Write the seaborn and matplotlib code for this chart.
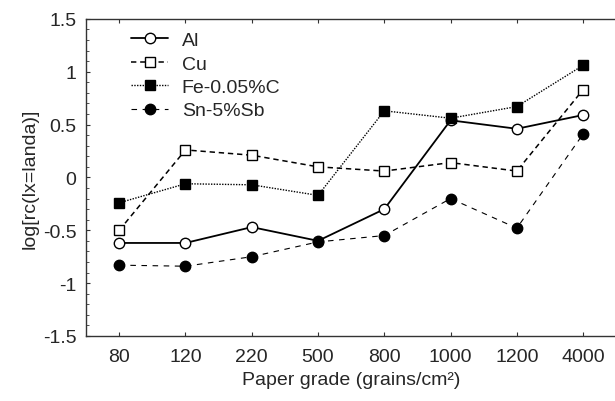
import matplotlib
matplotlib.use("Agg")
import matplotlib.pyplot as plt
import seaborn as sns
import numpy as np
from matplotlib.ticker import MultipleLocator

sns.set_style("white")
plt.rcParams['font.family'] = ['Liberation Sans', 'DejaVu Sans']

grades = ["80", "120", "220", "500", "800", "1000", "1200", "4000"]
al = [-0.62, -0.62, -0.47, -0.60, -0.30, 0.54, 0.46, 0.59]
cu = [-0.50, 0.26, 0.21, 0.10, 0.06, 0.14, 0.06, 0.83]
fe = [-0.24, -0.06, -0.07, -0.17, 0.63, 0.56, 0.67, 1.06]
sn = [-0.83, -0.84, -0.75, -0.61, -0.55, -0.20, -0.48, 0.41]

FS = 14

fig = plt.figure(figsize=(6.15, 4.02), dpi=100)
ax = fig.add_axes([0.140, 0.1617, 0.862, 0.789])
pos = np.arange(len(grades))

sns.lineplot(x=pos, y=al, ax=ax, color='black', lw=1.3, ls='-', marker='o', ms=7.5,
             mfc='white', mec='black', mew=1.0, label='Al')
sns.lineplot(x=pos, y=cu, ax=ax, color='black', lw=1.1, ls=(0, (3.5, 2.5)), marker='s', ms=7,
             mfc='white', mec='black', mew=1.0, label='Cu')
sns.lineplot(x=pos, y=fe, ax=ax, color='black', lw=1.0, ls=(0, (1, 1)), marker='s', ms=7.5,
             mfc='black', mec='black', mew=1.0, label='Fe-0.05%C')
sns.lineplot(x=pos, y=sn, ax=ax, color='black', lw=0.8, ls=(0, (5, 5)), marker='o', ms=7.5,
             mfc='black', mec='black', mew=1.0, label='Sn-5%Sb')

ax.set_xlim(-0.5, 7.5)
ax.set_ylim(-1.5, 1.5)
ax.set_xticks(pos)
ax.set_xticklabels(grades)
ax.set_yticks([-1.5, -1, -0.5, 0, 0.5, 1, 1.5])
ax.set_yticklabels(["-1.5", "-1", "-0.5", "0", "0.5", "1", "1.5"])
ax.yaxis.set_minor_locator(MultipleLocator(0.1))
ax.tick_params(axis='both', which='major', direction='in', labelsize=FS, length=3,
               color='#333333', width=0.8, top=True, right=False, left=True, bottom=True)
ax.tick_params(axis='x', which='major', pad=9)
ax.tick_params(axis='y', which='major', pad=7)
ax.tick_params(axis='y', which='minor', direction='in', length=2, left=True, right=False,
               color='#333333', width=0.6)
ax.tick_params(axis='x', which='minor', bottom=False, top=False)
for s in ['left', 'bottom', 'top']:
    ax.spines[s].set_color('#333333')
    ax.spines[s].set_linewidth(1.0)
ax.spines['right'].set_visible(False)

ax.set_xlabel("Paper grade (grains/cm²)", fontsize=FS, labelpad=4)
ax.set_ylabel("log[rc(lx=landa)]", fontsize=FS, labelpad=3)

leg = ax.legend(loc='upper left', bbox_to_anchor=(0.085, 0.96), frameon=False, fontsize=FS,
                handlelength=1.9, handletextpad=0.7, labelspacing=0.3, borderaxespad=0,
                borderpad=0)

fig.savefig("out.png", dpi=100)
